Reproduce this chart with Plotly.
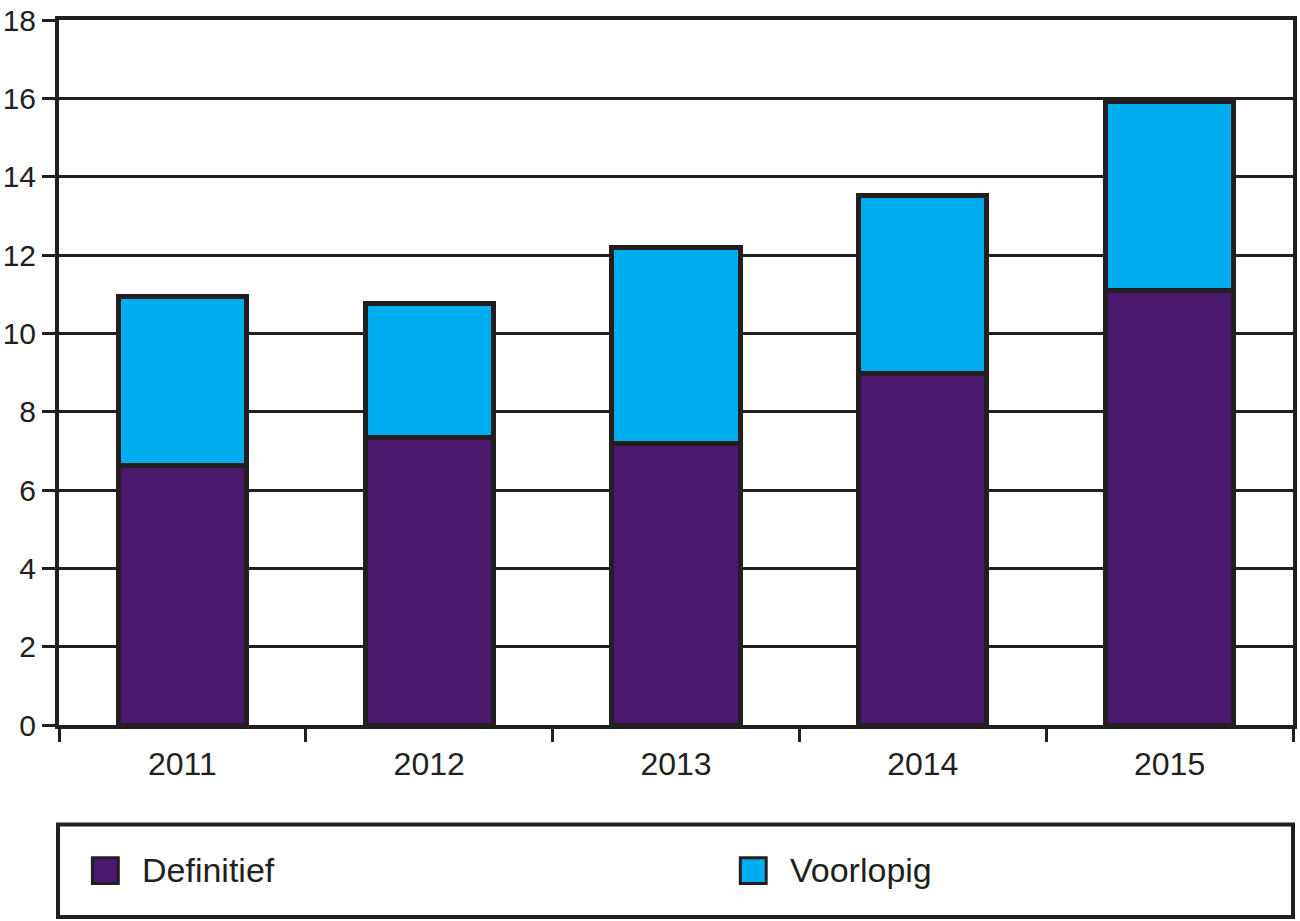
import plotly.graph_objects as go

years = ["2011", "2012", "2013", "2014", "2015"]
definitief = [6.62, 7.33, 7.20, 8.98, 11.09]
voorlopig = [4.31, 3.44, 4.98, 4.54, 4.82]
series_names = ["Definitief", "Voorlopig"]
series_colors = ["#4a186c", "#00aeef"]
y_ticks = [0, 2, 4, 6, 8, 10, 12, 14, 16, 18]

INK = "#231f20"
FONT = "Liberation Sans, Arial, sans-serif"

fig = go.Figure()
for name, vals, col in zip(series_names, [definitief, voorlopig], series_colors):
    fig.add_trace(go.Bar(
        x=years, y=vals, name=name, width=0.52,
        marker=dict(color=col, line=dict(color=INK, width=5)),
        showlegend=False,
    ))

fig.update_layout(
    barmode="stack",
    width=1300, height=921,
    margin=dict(l=59, r=3, t=16, b=196),
    plot_bgcolor="white", paper_bgcolor="white",
    font=dict(family=FONT, color=INK, size=30),
    xaxis=dict(
        type="category", tickson="boundaries",
        showline=True, linecolor=INK, linewidth=4, mirror=True,
        ticks="outside", ticklen=13, tickwidth=2.5, tickcolor=INK,
        tickfont=dict(size=32, family=FONT, color=INK),
        ticklabelstandoff=8,
        showgrid=False, range=[-0.5, 4.5],
    ),
    yaxis=dict(
        range=[0, 18], tickvals=y_ticks,
        showline=True, linecolor=INK, linewidth=4, mirror=True,
        ticks="outside", ticklen=13, tickwidth=3, tickcolor=INK,
        tickfont=dict(size=30, family=FONT, color=INK),
        ticklabeloverflow="allow",
        showgrid=True, gridcolor=INK, gridwidth=2.5,
        zeroline=False,
    ),
)

# Manual legend box below the plot
ph = 709.0
pw = 1238.0
def px(X):
    return (X - 59) / pw
def py(Y):
    return (725 - Y) / ph

shapes = [dict(type="rect", xref="paper", yref="paper",
               x0=px(58), x1=px(1297), y0=py(918), y1=py(825),
               line=dict(color=INK, width=4), fillcolor="rgba(0,0,0,0)")]
annotations = []
legend_x = [91, 741]
for lx, name, col in zip(legend_x, series_names, series_colors):
    shapes.append(dict(type="rect", xref="paper", yref="paper",
                       x0=px(lx + 1.5), x1=px(lx + 27.5), y0=py(884.5), y1=py(858.5),
                       line=dict(color=INK, width=3), fillcolor=col))
    annotations.append(dict(xref="paper", yref="paper", x=px(lx + 49), y=py(871),
                            text=name, showarrow=False, xanchor="left", yanchor="middle",
                            font=dict(size=34, family=FONT, color=INK)))
fig.update_layout(shapes=shapes, annotations=annotations)

fig.write_html("out.html", config={"displayModeBar": False},
               post_script="document.body.style.margin='0';document.body.style.overflow='hidden';")
